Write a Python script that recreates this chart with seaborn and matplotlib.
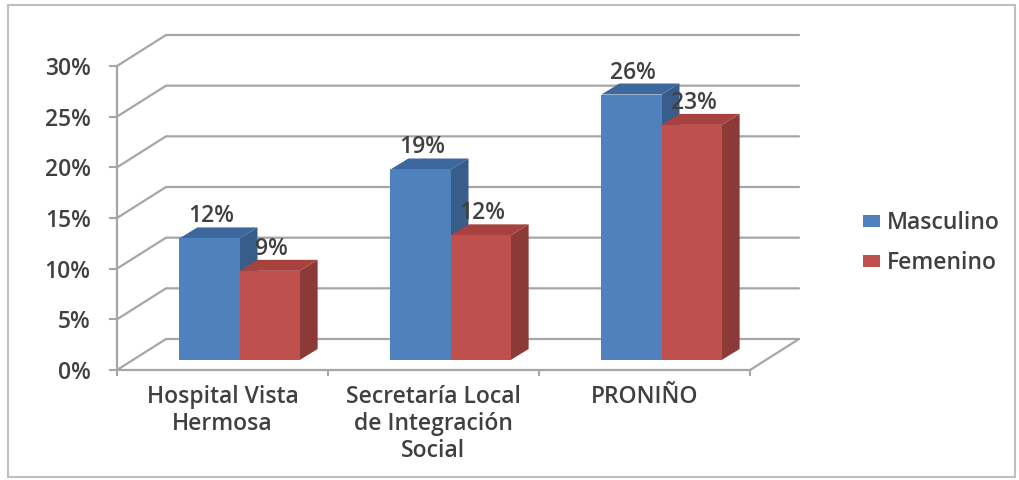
import numpy as np
import pandas as pd
import matplotlib
matplotlib.use('Agg')
import matplotlib.pyplot as plt
import seaborn as sns
from matplotlib.patches import Polygon, Rectangle, Patch
from matplotlib.lines import Line2D
from matplotlib.ticker import PercentFormatter
from matplotlib.transforms import ScaledTranslation, IdentityTransform

# Data
instituciones = ['Hospital Vista\nHermosa', 'Secretaría Local\nde Integración\nSocial', 'PRONIÑO']
sexos = ['Masculino', 'Femenino']
masculino = [0.12, 0.188, 0.262]
femenino = [0.088, 0.123, 0.232]
y_ticks = [0, 0.05, 0.10, 0.15, 0.20, 0.25, 0.30]

df = pd.DataFrame({
    'Institución': instituciones * 2,
    'Porcentaje': masculino + femenino,
    'Sexo': [sexos[0]] * 3 + [sexos[1]] * 3,
})

# Excel-like colours
front_c = {'Masculino': '#4F81BD', 'Femenino': '#C0504D'}
side_c = {'Masculino': '#385D8A', 'Femenino': '#8B3A37'}
top_c = {'Masculino': '#3C689E', 'Femenino': '#A7423F'}
grid_c = '#A6A6A6'
text_c = '#404040'
fs = 16.5
fw = 'semibold'

sns.set_theme(style='white')
plt.rcParams['font.family'] = ['Open Sans', 'DejaVu Sans']
plt.rcParams['font.weight'] = fw

W, H = 1019, 480
fig = plt.figure(figsize=(W / 100, H / 100), dpi=100)
fig.patch.set_facecolor('white')

# front plane of the 3D box
ax = fig.add_axes([117 / W, (H - 370) / H, (750 - 117) / W, (370 - 66) / H])
ax.set_facecolor('none')

sns.barplot(data=df, x='Institución', y='Porcentaje', hue='Sexo', hue_order=sexos,
            palette=front_c, width=0.57, saturation=1, ax=ax, legend=False)
ax.set_xlim(-0.5, 2.5)
ax.set_ylim(0, 0.30)

# depth offsets in pixels
D = np.array([49.0, 31.0])     # full box depth
d0 = np.array([17.0, 10.0])    # bar front plane
dd = np.array([18.0, 11.0])    # bar depth

T = ax.transData
shift = ScaledTranslation(d0[0] / 100, d0[1] / 100, fig.dpi_scale_trans)


def add_line(pts, **kw):
    pts = np.asarray(pts)
    ln = Line2D(pts[:, 0], pts[:, 1], transform=IdentityTransform(), clip_on=False, **kw)
    ax.add_artist(ln)


# back wall gridlines + left wall diagonals
for t in y_ticks:
    p0 = T.transform((-0.5, t))
    p2 = T.transform((2.5, t)) + D
    add_line([p0, p0 + D, p2], color=grid_c, lw=1.6, zorder=1)
# floor right edge
pr = T.transform((2.5, 0))
add_line([pr, pr + D], color=grid_c, lw=1.6, zorder=1)

# bars: shift front faces back, add side and top faces
for j, (sexo, cont) in enumerate(zip(sexos, ax.containers)):
    for i, rect in enumerate(cont.patches):
        z = 3 + i + 0.5 * j
        rect.set_transform(T + shift)
        rect.set_zorder(z)
        rect.set_edgecolor('none')
        x0 = rect.get_x()
        x1 = x0 + rect.get_width()
        h = rect.get_height()
        a = T.transform((x0, 0)) + d0
        b = T.transform((x1, h)) + d0
        side = [(b[0], a[1]), (b[0] + dd[0], a[1] + dd[1]),
                (b[0] + dd[0], b[1] + dd[1]), (b[0], b[1])]
        top = [(a[0], b[1]), (b[0], b[1]),
               (b[0] + dd[0], b[1] + dd[1]), (a[0] + dd[0], b[1] + dd[1])]
        for poly, col in ((side, side_c[sexo]), (top, top_c[sexo])):
            ax.add_artist(Polygon(poly, closed=True, facecolor=col, edgecolor='none',
                                  transform=IdentityTransform(), clip_on=False, zorder=z - 0.01))
        ax.annotate(f'{h:.0%}', xy=(x0 + rect.get_width() / 2, h),
                    xytext=(d0[0] + 2, d0[1] + dd[1] - 1), textcoords='offset pixels',
                    ha='center', va='bottom', fontsize=fs, color=text_c, zorder=20)

# axes styling
ax.set_xlabel('')
ax.set_ylabel('')
ax.grid(False)
for s in ['top', 'right']:
    ax.spines[s].set_visible(False)
for s in ['left', 'bottom']:
    ax.spines[s].set_color(grid_c)
    ax.spines[s].set_linewidth(1.6)

ax.set_yticks(y_ticks)
ax.yaxis.set_major_formatter(PercentFormatter(1, decimals=0))
ax.tick_params(axis='y', left=True, length=6, width=1.5, color=grid_c, pad=13,
               labelsize=fs, labelcolor=text_c)
ax.set_xticks(range(len(instituciones)))
ax.set_xticklabels(instituciones, linespacing=1.15)
ax.set_xticks([-0.5, 0.5, 1.5, 2.5], minor=True)
ax.tick_params(axis='x', which='major', bottom=False, length=0, pad=11,
               labelsize=fs, labelcolor=text_c)
ax.tick_params(axis='x', which='minor', bottom=True, length=4, width=1.5, color=grid_c)

# legend
handles = [Patch(facecolor=front_c[s], edgecolor='none') for s in sexos]
fig.legend(handles, sexos, loc='center left', bbox_to_anchor=(854 / W, (H - 243) / H),
           frameon=False, fontsize=fs, labelcolor=text_c, handlelength=0.75,
           handleheight=0.42, handletextpad=0.3, labelspacing=0.7, borderaxespad=0)

# outer chart border
fig.add_artist(Rectangle((8 / W, 3 / H), (1015 - 8) / W, (475 - 3) / H,
                         transform=fig.transFigure, fill=False,
                         edgecolor='#BFBFBF', lw=1.5))

fig.savefig('out.png', dpi=100)
